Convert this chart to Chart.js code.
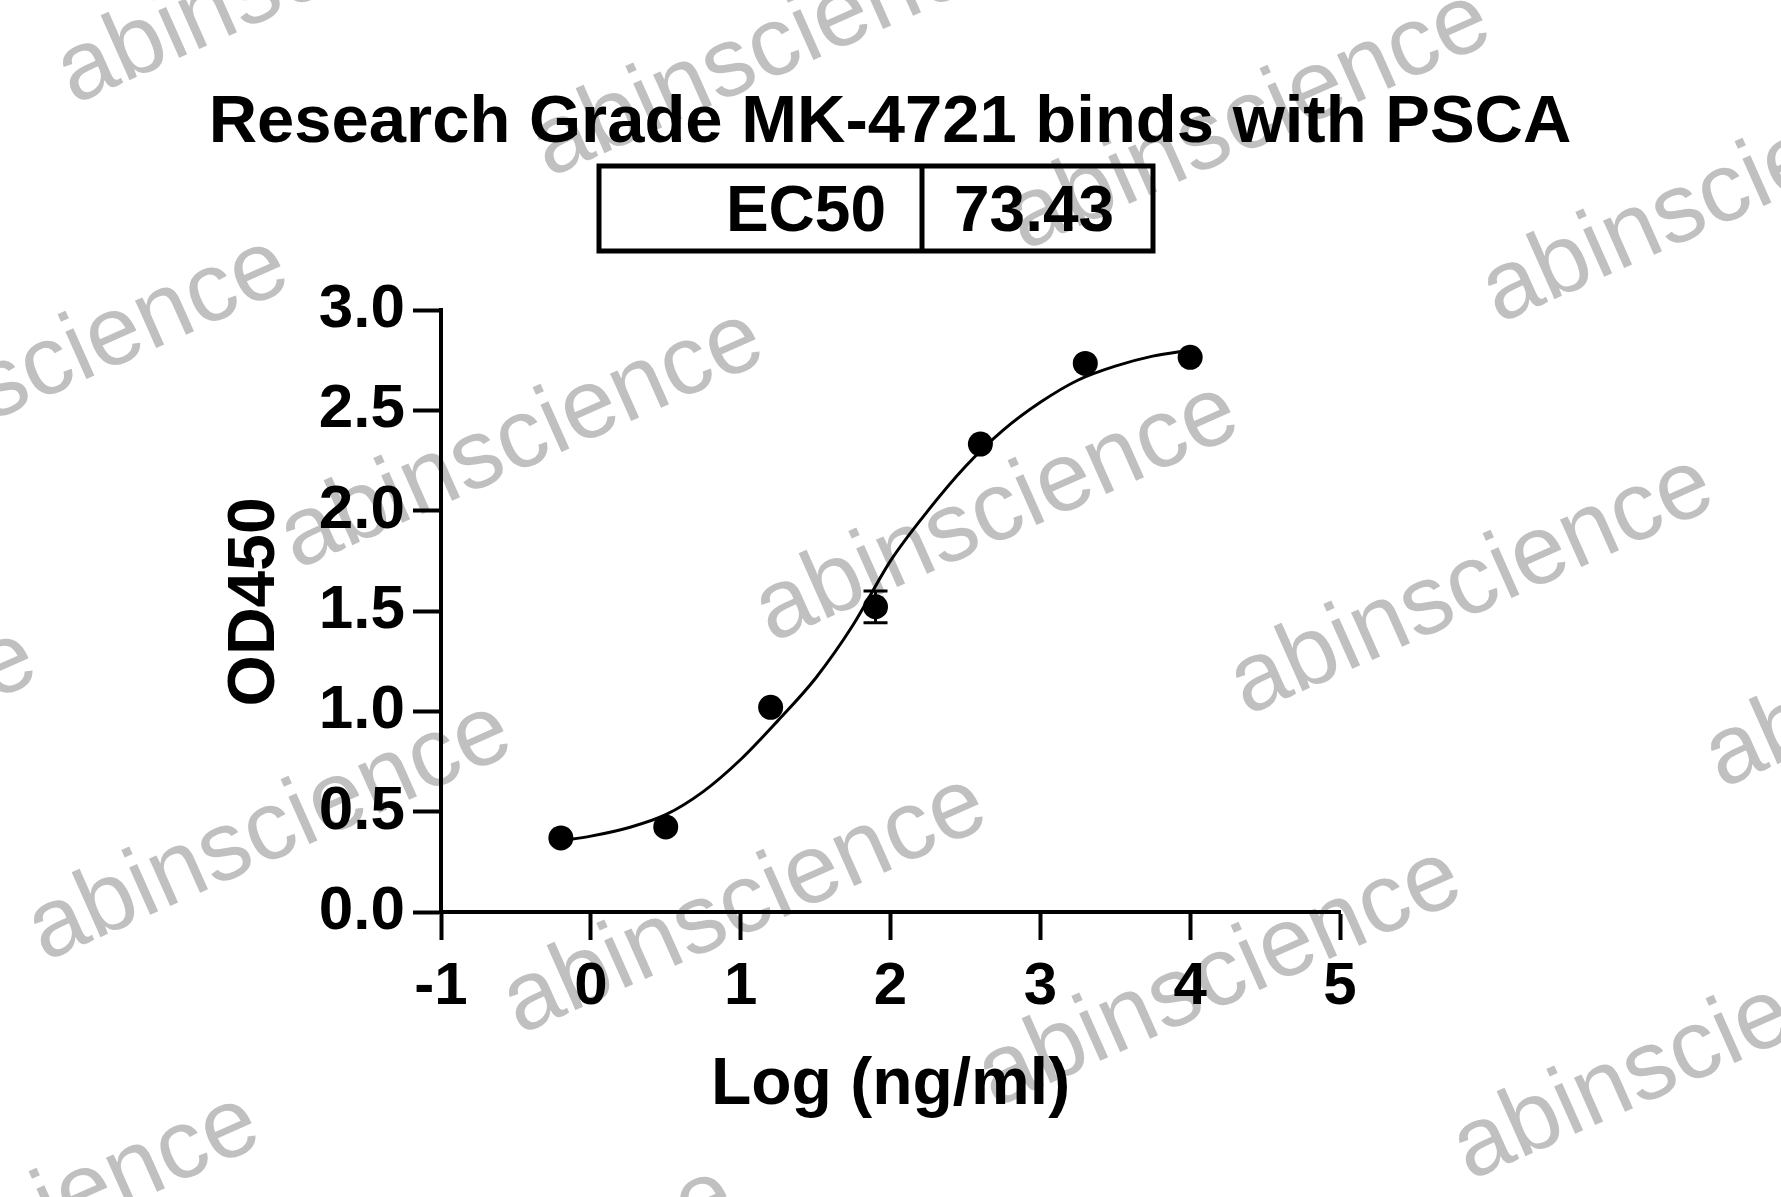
<!DOCTYPE html>
<html>
<head>
<meta charset="utf-8">
<script src="https://cdn.jsdelivr.net/npm/chart.js@4.4.1/dist/chart.umd.min.js"></script>
<style>
  html, body { margin: 0; padding: 0; background: #fff; }
  #wrap { width: 1781px; height: 1197px; position: relative; }
</style>
</head>
<body>
<div id="wrap"><canvas id="chart"></canvas></div>
<script>
// ── DATA ───────────────────────────────────────────────────────────────────

const TITLE      = 'Research Grade MK-4721 binds with PSCA';
const EC50_LABEL = 'EC50';
const EC50_VALUE = '73.43';

// measured points: log concentration vs OD450 (error only visible on one)
const LOG_CONC = [-0.2, 0.5, 1.2, 1.9, 2.6, 3.3, 4.0];
const OD450    = [0.369, 0.424, 1.02, 1.521, 2.332, 2.734, 2.764];
const OD_ERR   = [0, 0, 0, 0.079, 0, 0, 0];

// fitted curve
const FIT_X = [-0.2, 0.0, 0.25, 0.5, 0.75, 1.0, 1.25, 1.5, 1.75, 2.0, 2.25, 2.5, 2.75, 3.0, 3.25, 3.5, 3.75, 4.0];
const FIT_Y = [0.355, 0.378, 0.42, 0.485, 0.60, 0.76, 0.955, 1.165, 1.43, 1.75, 2.00, 2.22, 2.40, 2.54, 2.65, 2.72, 2.77, 2.80];

const X_MIN = -1, X_MAX = 5, X_STEP = 1;
const Y_MIN = 0,  Y_MAX = 3, Y_STEP = 0.5;

// ── STYLE ──────────────────────────────────────────────────────────────────

const FONT = '"Liberation Sans", Arial, sans-serif';
const INK  = '#000';

// ── PLUGINS ────────────────────────────────────────────────────────────────

// white page + diagonal grey watermark grid
const watermark = {
  id: 'watermark',
  beforeDraw(chart) {
    const { ctx, width, height } = chart;
    ctx.save();
    ctx.fillStyle = '#fff';
    ctx.fillRect(0, 0, width, height);
    ctx.fillStyle = '#c0c0c0';
    ctx.font = `98px ${FONT}`;
    ctx.textAlign = 'center';
    ctx.textBaseline = 'middle';
    const o = [522, 440], u = [475, 73], v = [-252, 392];
    for (let j = -2; j <= 3; j++) {
      for (let i = -2; i <= 4; i++) {
        const cx = o[0] + i * u[0] + j * v[0];
        const cy = o[1] + i * u[1] + j * v[1];
        if (cx < -400 || cx > width + 400 || cy < -200 || cy > height + 200) continue;
        ctx.save();
        ctx.translate(cx, cy);
        ctx.rotate(-24 * Math.PI / 180);
        ctx.fillText('abinscience', 0, 0);
        ctx.restore();
      }
    }
    ctx.restore();
  },
};

// title and the EC50 box above the plot
const header = {
  id: 'header',
  afterDraw(chart) {
    const { ctx } = chart;
    ctx.save();
    ctx.fillStyle = INK;
    ctx.font = `bold 67px ${FONT}`;
    ctx.textAlign = 'center';
    ctx.textBaseline = 'alphabetic';
    ctx.fillText(TITLE, 890, 142);

    ctx.strokeStyle = INK;
    ctx.lineWidth = 5;
    ctx.strokeRect(599, 166, 554, 85);
    ctx.beginPath();
    ctx.moveTo(922, 166);
    ctx.lineTo(922, 251);
    ctx.stroke();

    ctx.font = `bold 64px ${FONT}`;
    ctx.textAlign = 'right';
    ctx.fillText(EC50_LABEL, 886, 231);
    ctx.textAlign = 'left';
    ctx.fillText(EC50_VALUE, 954, 231);
    ctx.restore();
  },
};

// vertical error bars with caps, through the chart's own scales
const errorBars = {
  id: 'errorBars',
  beforeDatasetsDraw(chart) {
    const { ctx, scales: { x, y } } = chart;
    ctx.save();
    ctx.strokeStyle = INK;
    ctx.lineWidth = 3;
    LOG_CONC.forEach((lx, i) => {
      if (!OD_ERR[i]) return;
      const px = x.getPixelForValue(lx);
      const top = y.getPixelForValue(OD450[i] + OD_ERR[i]);
      const bot = y.getPixelForValue(OD450[i] - OD_ERR[i]);
      ctx.beginPath();
      ctx.moveTo(px, top); ctx.lineTo(px, bot);
      ctx.moveTo(px - 12, top); ctx.lineTo(px + 12, top);
      ctx.moveTo(px - 12, bot); ctx.lineTo(px + 12, bot);
      ctx.stroke();
    });
    ctx.restore();
  },
};

// ── CHART ──────────────────────────────────────────────────────────────────

const bold = size => ({ family: FONT, size, weight: 'bold' });

new Chart(document.getElementById('chart'), {
  type: 'scatter',
  data: {
    datasets: [
      {
        label: 'OD450',
        data: LOG_CONC.map((x, i) => ({ x, y: OD450[i] })),
        pointRadius: 12.5,
        pointBackgroundColor: INK,
        pointBorderWidth: 0,
        showLine: false,
      },
      {
        label: 'fit',
        type: 'line',
        data: FIT_X.map((x, i) => ({ x, y: FIT_Y[i] })),
        borderColor: INK,
        borderWidth: 3,
        pointRadius: 0,
        fill: false,
        cubicInterpolationMode: 'monotone',
      },
    ],
  },
  options: {
    responsive: true,
    maintainAspectRatio: false,
    animation: false,
    layout: { padding: { left: 0, right: 441, top: 310, bottom: 0 } },
    plugins: {
      legend:  { display: false },
      tooltip: { enabled: false },
    },
    scales: {
      x: {
        type: 'linear',
        min: X_MIN, max: X_MAX,
        afterFit: s => { s.height = 285; },
        ticks: { stepSize: X_STEP, color: INK, font: bold(60), padding: 11, maxRotation: 0 },
        grid: { drawOnChartArea: false, tickLength: 28, tickWidth: 4, tickColor: INK },
        border: { color: INK, width: 4 },
        title: {
          display: true, text: 'Log (ng/ml)', color: INK,
          font: bold(66), padding: { top: 0, bottom: 72 },
        },
      },
      y: {
        type: 'linear',
        min: Y_MIN, max: Y_MAX,
        afterFit: s => { s.width = 441; },
        ticks: { stepSize: Y_STEP, color: INK, font: bold(62), padding: 8, callback: v => v.toFixed(1) },
        grid: { drawOnChartArea: false, tickLength: 28, tickWidth: 4, tickColor: INK },
        border: { color: INK, width: 4 },
        title: {
          // leading space nudges the rotated label up to where the original sits
          display: true, text: ' OD450', color: INK,
          font: bold(66), padding: { top: 216, bottom: 0 },
        },
      },
    },
  },
  plugins: [watermark, errorBars, header],
});
</script>
</body>
</html>
